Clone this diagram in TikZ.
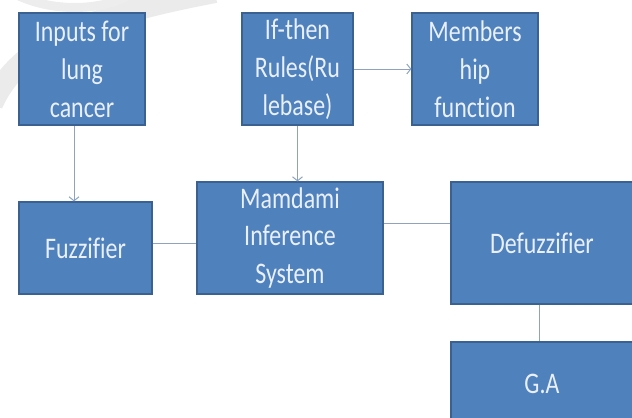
\documentclass[tikz,border=0pt]{standalone}
\usepackage{fontspec}
\setmainfont{Carlito}[FakeStretch=0.8, Ligatures=NoCommon]
\usepackage{xcolor}
\usepackage{tikz}
\usetikzlibrary{arrows.meta, positioning}

\definecolor{boxfill}{HTML}{4F81BD}
\definecolor{boxline}{HTML}{3A6190}
\definecolor{boxtext}{HTML}{E9F0FA}
\definecolor{wirecol}{HTML}{8FA3BC}

\tikzset{
  block/.style={draw=boxline, line width=1.2bp, fill=boxfill, text=boxtext,
    align=center, inner sep=0pt, font=\fontsize{30}{38}\selectfont},
  flow/.style={draw=wirecol, line width=1bp, -{Straight Barb[length=4bp,width=10bp]}},
  link/.style={draw=wirecol, line width=1bp}
}

\begin{document}
\begin{tikzpicture}[x=1bp, y=-1bp]
  \useasboundingbox (0,0) rectangle (632,417);
  % faint swoosh in the corner
  \draw[gray!16, line width=22bp] (-8,104) .. controls (20,40) and (100,14) .. (215,-8);
  \draw[gray!14, line width=9bp] (15,-6) .. controls (50,12) and (100,12) .. (132,-6);

  \node[block, minimum width=126bp, minimum height=112bp] (in) at (82,69) {Inputs for\\lung\\cancer};
  \node[block, minimum width=111bp, minimum height=112bp] (rules) at (297.5,69) {If-then\\Rules(Ru\\lebase)};
  \node[block, minimum width=126bp, minimum height=112bp] (mf) at (475,69) {Members\\hip\\function};
  \node[block, minimum width=133bp, minimum height=92bp] (fuzz) at (85.5,248) {Fuzzifier};
  \node[block, minimum width=186bp, minimum height=112bp] (mis) at (290,238) {Mamdami\\Inference\\System};
  \node[block, minimum width=182bp, minimum height=122bp] (defuzz) at (542,243) {Defuzzifier};
  \node[block, minimum width=182bp, minimum height=84bp] (ga) at (542,384) {G.A};

  \path[flow] ([xshift=-8bp]in.south) -- ([xshift=-8bp]in.south |- fuzz.north);
  \path[flow] (rules.south) -- (rules.south |- mis.north);
  \path[flow] (rules.east) -- (mf.west);
  \path[link] ([yshift=5bp]fuzz.east) -- ([yshift=5bp]fuzz.east -| mis.west);
  \path[link] ([yshift=15bp]mis.east) -- ([yshift=15bp]mis.east -| defuzz.west);
  \path[link] ([xshift=-3bp]defuzz.south) -- ([xshift=-3bp]defuzz.south |- ga.north);
\end{tikzpicture}
\end{document}
